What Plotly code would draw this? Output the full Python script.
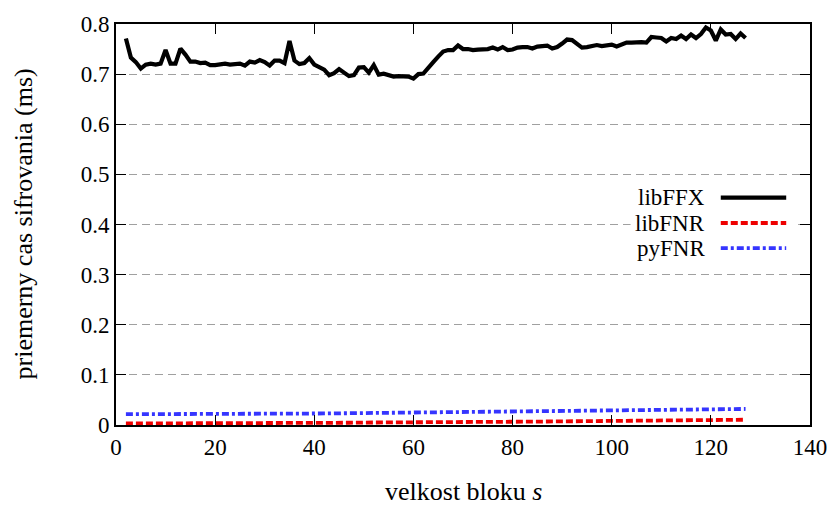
import plotly.graph_objects as go

# ---- data ----
x_ffx = list(range(2, 128))
y_ffx = [0.771, 0.733, 0.724, 0.711, 0.719, 0.721, 0.719, 0.721, 0.748, 0.721,
         0.721, 0.751, 0.739, 0.725, 0.725, 0.722, 0.723, 0.718, 0.718, 0.720,
         0.721, 0.719, 0.719, 0.721, 0.717, 0.725, 0.723, 0.728, 0.724, 0.717,
         0.727, 0.727, 0.722, 0.766, 0.727, 0.720, 0.722, 0.732, 0.719, 0.713,
         0.709, 0.698, 0.702, 0.710, 0.703, 0.696, 0.698, 0.713, 0.714, 0.703,
         0.718, 0.699, 0.701, 0.698, 0.695, 0.696, 0.695, 0.695, 0.691, 0.700,
         0.701, 0.714, 0.724, 0.735, 0.745, 0.748, 0.748, 0.757, 0.750, 0.750,
         0.748, 0.749, 0.749, 0.750, 0.753, 0.749, 0.754, 0.748, 0.749, 0.753,
         0.754, 0.754, 0.751, 0.755, 0.756, 0.757, 0.751, 0.754, 0.761, 0.769,
         0.768, 0.760, 0.753, 0.754, 0.755, 0.758, 0.756, 0.757, 0.759, 0.755,
         0.759, 0.763, 0.763, 0.764, 0.764, 0.763, 0.774, 0.773, 0.772, 0.765,
         0.772, 0.770, 0.777, 0.770, 0.779, 0.772, 0.780, 0.793, 0.787, 0.767,
         0.789, 0.779, 0.780, 0.770, 0.781, 0.772]

x_fnr = list(range(2, 128, 5))
y_libfnr = [0.003, 0.003, 0.003, 0.003, 0.0035, 0.0035, 0.004, 0.004, 0.0045, 0.0045,
            0.005, 0.005, 0.0055, 0.0058, 0.006, 0.0063, 0.0066, 0.007, 0.0073, 0.0076,
            0.008, 0.0085, 0.009, 0.0095, 0.010, 0.0105]
y_pyfnr = [0.0215, 0.0215, 0.0215, 0.022, 0.022, 0.0222, 0.0225, 0.0228, 0.023, 0.0235,
           0.024, 0.0245, 0.025, 0.0255, 0.026, 0.026, 0.0265, 0.027, 0.0275, 0.028,
           0.0285, 0.029, 0.030, 0.031, 0.0315, 0.032]

series_names = ["libFFX", "libFNR", "pyFNR"]
x_ticks = [0, 20, 40, 60, 80, 100, 120, 140]
y_ticks = [0, 0.1, 0.2, 0.3, 0.4, 0.5, 0.6, 0.7, 0.8]
y_tick_labels = ["0", "0.1", "0.2", "0.3", "0.4", "0.5", "0.6", "0.7", "0.8"]

FONT = "Liberation Serif, DejaVu Serif, serif"
FS = 23
FS_TITLE = 26
styles = [
    dict(color="black", width=4.2, dash="solid"),
    dict(color="#ee0000", width=3.8, dash="7px,3px"),
    dict(color="#3535ff", width=3.8, dash="7px,3px,3px,3px"),
]

fig = go.Figure()
fig.add_trace(go.Scatter(x=x_ffx, y=y_ffx, mode="lines", line=styles[0], showlegend=False))
fig.add_trace(go.Scatter(x=x_fnr, y=y_libfnr, mode="lines", line=styles[1], showlegend=False))
fig.add_trace(go.Scatter(x=x_fnr, y=y_pyfnr, mode="lines", line=styles[2], showlegend=False))

# custom key (text left, line sample right), opaque background
shapes = [dict(type="rect", xref="x", yref="y", x0=103.8, x1=137.6, y0=0.33, y1=0.478,
               fillcolor="white", line=dict(width=0), layer="above")]
annotations = []
key_y = [0.4537, 0.403, 0.353]
for name, st, ky in zip(series_names, styles, key_y):
    annotations.append(dict(x=119.3, y=ky, xref="x", yref="y", text=name, showarrow=False,
                            xanchor="right", yanchor="middle",
                            font=dict(family=FONT, size=FS, color="black")))
    shapes.append(dict(type="line", xref="x", yref="y", x0=122, x1=135.2, y0=ky, y1=ky,
                       line=st, layer="above"))

annotations.append(dict(x=0.5, y=-0.166, xref="paper", yref="paper",
                        text="velkost bloku <i>s</i>", showarrow=False,
                        xanchor="center", yanchor="middle",
                        font=dict(family=FONT, size=FS_TITLE, color="black")))
annotations.append(dict(x=-0.134, y=0.5, xref="paper", yref="paper",
                        text="priemerny cas sifrovania (ms)", showarrow=False, textangle=-90,
                        xanchor="center", yanchor="middle",
                        font=dict(family=FONT, size=FS_TITLE, color="black")))

fig.update_layout(
    width=839, height=508,
    margin=dict(l=116, r=23, t=15, b=83),
    paper_bgcolor="white", plot_bgcolor="white",
    font=dict(family=FONT, size=FS, color="black"),
    shapes=shapes, annotations=annotations,
)
fig.update_xaxes(range=[0, 140], tickvals=x_ticks, ticks="inside", ticklen=10, tickwidth=1.2,
                 tickcolor="black", showline=True, linecolor="black", linewidth=2,
                 mirror="ticks", showgrid=False, zeroline=False,
                 tickfont=dict(family=FONT, size=FS, color="black"))
fig.update_yaxes(range=[0, 0.8], tickvals=y_ticks, ticktext=y_tick_labels, ticks="inside",
                 ticklen=10, tickwidth=1.2, tickcolor="black", showline=True, linecolor="black",
                 linewidth=2, mirror="ticks", showgrid=True, gridcolor="#a0a0a0", gridwidth=1.3,
                 griddash="8px,5px", zeroline=False,
                 tickfont=dict(family=FONT, size=FS, color="black"))

fig.write_html("out.html")
